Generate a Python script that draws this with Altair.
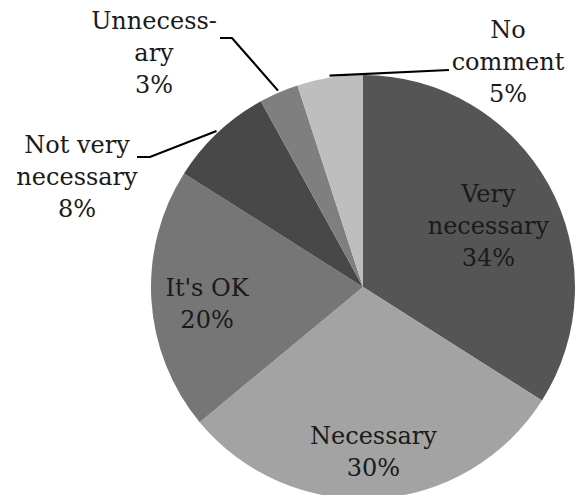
import math
import altair as alt
import pandas as pd

# ---- data ----
categories = ["Very necessary", "Necessary", "It's OK", "Not very necessary", "Unnecessary", "No comment"]
label_names = ["Very\nnecessary", "Necessary", "It's OK", "Not very\nnecessary", "Unnecess-\nary", "No\ncomment"]
values = [34, 30, 20, 8, 3, 5]
colors = ["#555555", "#a3a3a3", "#767676", "#484848", "#7f7f7f", "#bebebe"]

# ---- layout ----
W, H = 580, 495
CX, CY, R = 363, 287, 212
LH = 32
# inside labels: (radius in px, angular nudge in degrees from the slice middle)
inside_pos = {"Very necessary": (139, 3.2), "Necessary": (166, 0.0), "It's OK": (157, -3.0)}
outside_pos = {"Not very necessary": (77, 178), "Unnecessary": (154, 54), "No comment": (508, 63)}
leader_tail = {
    "Not very necessary": [(150, 157), (137, 157)],
    "Unnecessary": [(232, 38), (220, 38)],
    "No comment": [(449, 70)],
}

pie_df = pd.DataFrame({"category": categories, "value": values, "idx": range(len(values))})

total = sum(values)
cum = 0
label_rows, line_rows = [], []
for cat, name, v in zip(categories, label_names, values):
    mid = (cum + v / 2) / total * 2 * math.pi
    cum += v
    text = f"{name}\n{v}%"
    n_lines = text.count("\n") + 1
    if cat in inside_pos:
        r, nudge = inside_pos[cat]
        a = mid + math.radians(nudge)
        lx, ly = CX + r * math.sin(a), CY - r * math.cos(a)
    else:
        lx, ly = outside_pos[cat]
        ex, ey = CX + (R + 2) * math.sin(mid), CY - (R + 2) * math.cos(mid)
        pts = [(ex, ey)] + leader_tail[cat]
        for k, (px, py) in enumerate(pts):
            line_rows.append({"category": cat, "seq": k, "px": px, "py": py})
    # Vega places the first line at the anchor; shift so the block is centred
    ly -= (n_lines - 1) * LH / 2
    label_rows.append({"category": cat, "label": text, "lx": lx, "ly": ly})

label_df = pd.DataFrame(label_rows)
line_df = pd.DataFrame(line_rows)

pie = alt.Chart(pie_df).mark_arc(radius=R).encode(
    theta=alt.Theta("value:Q", stack=True),
    order=alt.Order("idx:Q"),
    color=alt.Color("category:N", scale=alt.Scale(domain=categories, range=colors), legend=None),
    x=alt.value(CX),
    y=alt.value(CY),
)

leaders = alt.Chart(line_df).mark_line(color="black", strokeWidth=2.2).encode(
    x=alt.X("px:Q", scale=None, axis=None),
    y=alt.Y("py:Q", scale=None, axis=None),
    detail="category:N",
    order=alt.Order("seq:Q"),
)

labels = alt.Chart(label_df).mark_text(
    font="DejaVu Serif", fontSize=24, lineHeight=LH, lineBreak="\n",
    align="center", baseline="middle", color="#1a1a1a",
).encode(
    x=alt.X("lx:Q", scale=None, axis=None),
    y=alt.Y("ly:Q", scale=None, axis=None),
    text="label:N",
)

chart = alt.layer(pie, leaders, labels).properties(
    width=W, height=H, autosize="none", padding=0
).configure_view(stroke=None)

chart.save("out.html", embed_options={"renderer": "svg", "actions": False})
